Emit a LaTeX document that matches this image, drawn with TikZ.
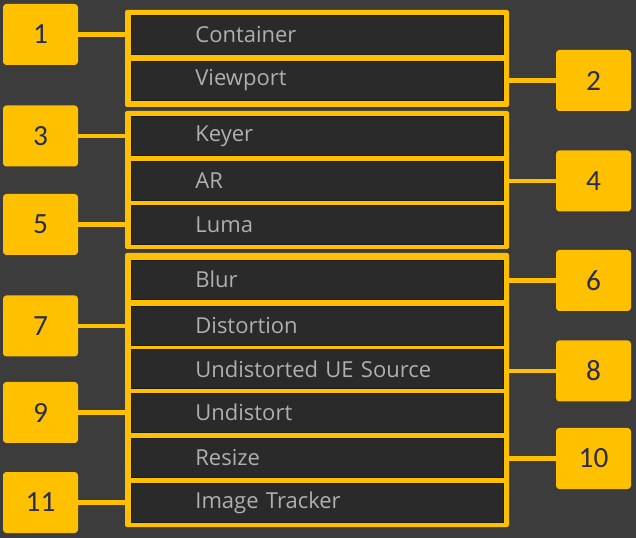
\documentclass[tikz,border=0pt]{standalone}
\usepackage{fontspec}
\setmainfont{Open Sans}
\newfontfamily\numfont{Carlito}
\definecolor{gold}{HTML}{FFC000}
\definecolor{bggray}{HTML}{3C3C3C}
\definecolor{rowgray}{HTML}{2A2A2A}
\definecolor{rowedge}{HTML}{1E1E1E}
\definecolor{rowtext}{HTML}{AFAFAF}
\definecolor{navy}{HTML}{2B2D4E}
\begin{document}
\begin{tikzpicture}[x=0.75pt,y=-0.75pt,
  row/.style={fill=rowgray,draw=rowedge,line width=0.6pt,anchor=west,
    minimum height=29.25pt,text width=183pt,inner xsep=48pt,inner ysep=0pt,
    align=left,text=rowtext,font=\fontsize{16.5}{18}\selectfont},
  num/.style={fill=gold,rounded corners=2.5pt,minimum width=56.25pt,
    minimum height=45.75pt,inner sep=0pt,text=navy,
    font=\numfont\fontsize{22}{24}\selectfont},
  group/.style={fill=gold,rounded corners=1.5pt},
  link/.style={draw=gold,line width=3.2pt}]
\fill[bggray] (0,0) rectangle (636,538);
% groups
\fill[group] (125,10) rectangle (509,107);
\fill[group] (125,111) rectangle (509,249);
\fill[group] (125,253) rectangle (509,527);
% rows
\node[row] (container) at (131,34.5) {Container};
\node[row] (viewport) at (131,80.5) {Viewport};
\node[row] (keyer) at (131,136) {Keyer};
\node[row] (ar) at (131,180.5) {AR};
\node[row] (luma) at (131,224.5) {Luma};
\node[row] (blur) at (131,279.5) {Blur};
\node[row] (distortion) at (131,325.5) {Distortion};
\node[row] (uesource) at (131,369) {Undistorted UE Source};
\node[row] (undistort) at (131,412.5) {Undistort};
\node[row] (resize) at (131,458) {Resize};
\node[row] (tracker) at (131,503) {Image Tracker};
% numbers
\node[num] (n1) at (40.5,34.5) {1};
\node[num] (n2) at (593.5,80.5) {2};
\node[num] (n3) at (40.5,136) {3};
\node[num] (n4) at (593.5,181) {4};
\node[num] (n5) at (40.5,224.5) {5};
\node[num] (n6) at (593.5,280.5) {6};
\node[num] (n7) at (40.5,326) {7};
\node[num] (n8) at (593.5,371) {8};
\node[num] (n9) at (40.5,412.5) {9};
\node[num] (n10) at (593.5,458.5) {10};
\node[num] (n11) at (40.5,502.5) {11};
% links
\draw[link] (n1.east) -- (n1.east -| container.west);
\draw[link] (n2.west -| viewport.east) -- (n2.west);
\draw[link] (n3.east) -- (n3.east -| keyer.west);
\draw[link] (n4.west -| ar.east) -- (n4.west);
\draw[link] (n5.east) -- (n5.east -| luma.west);
\draw[link] (n6.west -| blur.east) -- (n6.west);
\draw[link] (n7.east) -- (n7.east -| distortion.west);
\draw[link] (n8.west -| uesource.east) -- (n8.west);
\draw[link] (n9.east) -- (n9.east -| undistort.west);
\draw[link] (n10.west -| resize.east) -- (n10.west);
\draw[link] (n11.east) -- (n11.east -| tracker.west);
\end{tikzpicture}
\end{document}
